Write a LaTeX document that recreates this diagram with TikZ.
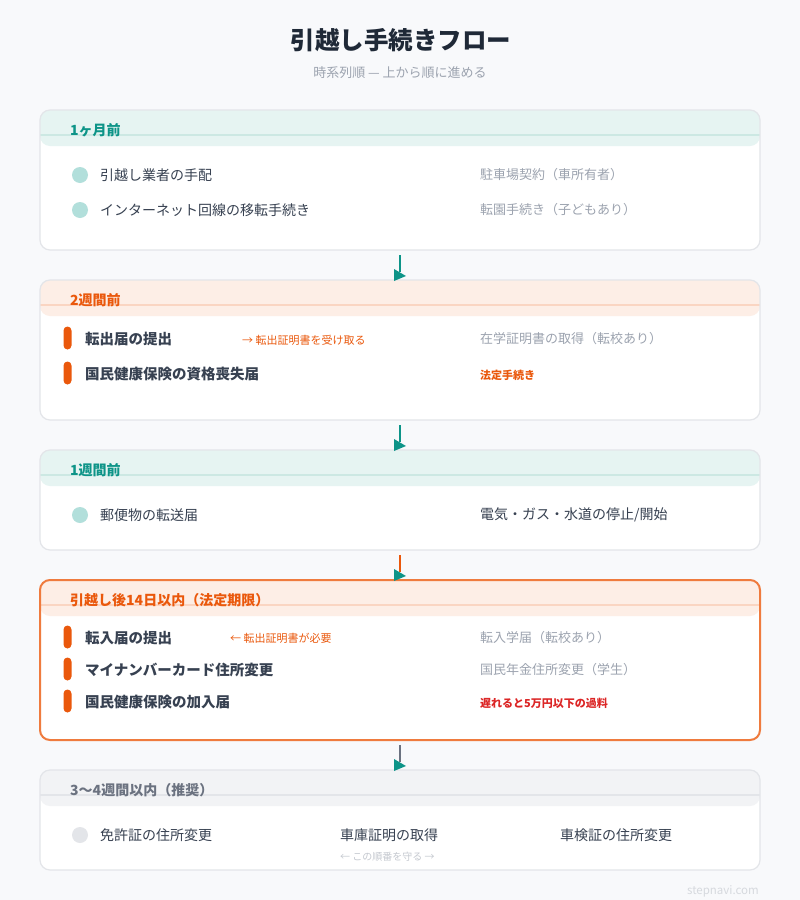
\documentclass[tikz,border=0pt]{standalone}
\usepackage{fontspec}
\setmainfont{Noto Sans CJK JP}
\usetikzlibrary{calc}

\definecolor{bgc}{HTML}{F8F9FB}
\definecolor{titlec}{HTML}{1F2937}
\definecolor{ink}{HTML}{374151}
\definecolor{mute}{HTML}{9CA3AF}
\definecolor{faint}{HTML}{C4C8CF}
\definecolor{cardline}{HTML}{E3E5E9}
\definecolor{tealc}{HTML}{0D9488}
\definecolor{tealhd}{HTML}{E6F4F2}
\definecolor{teallin}{HTML}{CCE8E3}
\definecolor{tealdot}{HTML}{B2DFDB}
\definecolor{orng}{HTML}{EA580C}
\definecolor{orngbd}{HTML}{EF7B3E}
\definecolor{orhd}{HTML}{FDEEE6}
\definecolor{orlin}{HTML}{FAD5C2}
\definecolor{grayc}{HTML}{6B7280}
\definecolor{grayhd}{HTML}{F2F3F5}
\definecolor{graylin}{HTML}{E3E5E9}
\definecolor{graydot}{HTML}{E3E5E9}
\definecolor{redc}{HTML}{DC2626}
\definecolor{foot}{HTML}{D6D9DE}

\tikzset{
  card/.style={fill=white, rounded corners=10pt, minimum width=720pt, inner sep=0pt, outer sep=0pt},
  item/.style={anchor=west, inner sep=0pt, text=ink, font=\fontsize{14}{16}\selectfont},
  itemb/.style={item, font=\bfseries\fontsize{14.5}{16}\selectfont},
  side/.style={anchor=west, inner sep=0pt, text=mute, font=\fontsize{13}{15}\selectfont},
  note/.style={anchor=west, inner sep=0pt, text=orng, font=\fontsize{11}{13}\selectfont},
  lab/.style={anchor=west, inner sep=0pt, font=\bfseries\fontsize{14}{16}\selectfont},
  dot/.style={circle, minimum size=16pt, inner sep=0pt},
  bar/.style={rectangle, rounded corners=4pt, minimum width=8pt, minimum height=23pt, inner sep=0pt, fill=orng},
  conn/.style={line width=1.5pt},
  tip/.style={fill=tealc},
}

\begin{document}
\begin{tikzpicture}[x=1pt, y=-1pt]

% background
\fill[bgc] (0,0) rectangle (800,900);

% title
\node[font=\bfseries\fontsize{24.5}{28}\selectfont, text=titlec] (title) at (401,40) {引越し手続きフロー};
\node[font=\fontsize{13}{15}\selectfont, text=mute] (sub) at (400,73) {時系列順 — 上から順に進める};

% cards
\node[card, minimum height=140pt] (m1) at (400,180) {};
\node[card, minimum height=140pt] (m2) at (400,350) {};
\node[card, minimum height=100pt] (m3) at (400,500) {};
\node[card, minimum height=160pt] (m4) at (400,660) {};
\node[card, minimum height=100pt] (m5) at (400,820) {};

% header bands
\fill[tealhd, rounded corners=10pt] (m1.north west) rectangle ($(m1.north east)+(0,36)$);
\fill[orhd, rounded corners=10pt] (m2.north west) rectangle ($(m2.north east)+(0,36)$);
\fill[tealhd, rounded corners=10pt] (m3.north west) rectangle ($(m3.north east)+(0,36)$);
\fill[orhd, rounded corners=10pt] (m4.north west) rectangle ($(m4.north east)+(0,36)$);
\fill[grayhd, rounded corners=10pt] (m5.north west) rectangle ($(m5.north east)+(0,36)$);
\draw[teallin, line width=1.5pt] ($(m1.north west)+(0,25)$) -- ($(m1.north east)+(0,25)$);
\draw[orlin, line width=1.5pt] ($(m2.north west)+(0,25)$) -- ($(m2.north east)+(0,25)$);
\draw[teallin, line width=1.5pt] ($(m3.north west)+(0,25)$) -- ($(m3.north east)+(0,25)$);
\draw[orlin, line width=1.5pt] ($(m4.north west)+(0,25)$) -- ($(m4.north east)+(0,25)$);
\draw[graylin, line width=1.5pt] ($(m5.north west)+(0,25)$) -- ($(m5.north east)+(0,25)$);

% borders
\draw[cardline, line width=1.2pt, rounded corners=10pt] (m1.north west) rectangle (m1.south east);
\draw[cardline, line width=1.2pt, rounded corners=10pt] (m2.north west) rectangle (m2.south east);
\draw[cardline, line width=1.2pt, rounded corners=10pt] (m3.north west) rectangle (m3.south east);
\draw[orngbd, line width=2pt, rounded corners=10pt] (m4.north west) rectangle (m4.south east);
\draw[cardline, line width=1.2pt, rounded corners=10pt] (m5.north west) rectangle (m5.south east);

% header labels
\node[lab, text=tealc] (l1) at (70,130) {1ヶ月前};
\node[lab, text=orng] (l2) at (70,300) {2週間前};
\node[lab, text=tealc] (l3) at (70,470) {1週間前};
\node[lab, text=orng] (l4) at (70,600) {引越し後14日以内（法定期限）};
\node[lab, text=grayc] (l5) at (70,790) {3〜4週間以内（推奨）};

% 1ヶ月前
\node[dot, fill=tealdot] (d11) at (80,175) {};
\node[dot, fill=tealdot] (d12) at (80,210) {};
\node[item] (t11) at (100,175) {引越し業者の手配};
\node[item] (t12) at (100,210) {インターネット回線の移転手続き};
\node[side] (s11) at (480,175) {駐車場契約（車所有者）};
\node[side] (s12) at (480,210) {転園手続き（子どもあり）};

% 2週間前
\node[bar] (b21) at (67.5,338) {};
\node[bar] (b22) at (67.5,373) {};
\node[itemb] (t21) at (85,339) {転出届の提出};
\node[itemb] (t22) at (85,374) {国民健康保険の資格喪失届};
\node[note] (n21) at (242,340) {→ 転出証明書を受け取る};
\node[side] (s21) at (480,339) {在学証明書の取得（転校あり）};
\node[note, font=\bfseries\fontsize{11}{13}\selectfont] (s22) at (480,375) {法定手続き};

% 1週間前
\node[dot, fill=tealdot] (d31) at (80,515) {};
\node[item] (t31) at (100,515) {郵便物の転送届};
\node[item] (s31) at (480,515) {電気・ガス・水道の停止/開始};

% 引越し後14日以内
\node[bar] (b41) at (67.5,637) {};
\node[bar] (b42) at (67.5,669) {};
\node[bar] (b43) at (67.5,701) {};
\node[itemb] (t41) at (85,638) {転入届の提出};
\node[itemb] (t42) at (85,670) {マイナンバーカード住所変更};
\node[itemb] (t43) at (85,702) {国民健康保険の加入届};
\node[note] (n41) at (230,638) {← 転出証明書が必要};
\node[side] (s41) at (480,638) {転入学届（転校あり）};
\node[side] (s42) at (480,670) {国民年金住所変更（学生）};
\node[note, text=redc, font=\bfseries\fontsize{11}{13}\selectfont] (s43) at (480,703) {遅れると5万円以下の過料};

% 3〜4週間以内
\node[dot, fill=graydot] (d51) at (80,835) {};
\node[item] (t51) at (100,835) {免許証の住所変更};
\node[item] (t52) at (340,835) {車庫証明の取得};
\node[item] (t53) at (560,835) {車検証の住所変更};
\node[note, text=faint, font=\fontsize{10}{12}\selectfont] (n51) at (340,857) {← この順番を守る →};

% connectors
\draw[conn, tealc] ($(m1.south)+(0,5)$) -- ($(m2.north)+(0,-8)$) coordinate (e1);
\draw[conn, tealc] ($(m2.south)+(0,5)$) -- ($(m3.north)+(0,-8)$) coordinate (e2);
\draw[conn, orng] ($(m3.south)+(0,5)$) -- ($(m4.north)+(0,-8)$) coordinate (e3);
\draw[conn, grayc] ($(m4.south)+(0,5)$) -- ($(m5.north)+(0,-8)$) coordinate (e4);
\fill[tip] ($(e1)+(-6,-3)$) -- ++(0,12) -- ++(12,-5) -- cycle;
\fill[tip] ($(e2)+(-6,-3)$) -- ++(0,12) -- ++(12,-5) -- cycle;
\fill[tip] ($(e3)+(-6,-3)$) -- ++(0,12) -- ++(12,-5) -- cycle;
\fill[tip] ($(e4)+(-6,-3)$) -- ++(0,12) -- ++(12,-5) -- cycle;

% footer
\node[anchor=east, inner sep=0pt, text=foot, font=\fontsize{11.5}{13}\selectfont] (ft) at (759,891) {stepnavi.com};

\end{tikzpicture}
\end{document}
